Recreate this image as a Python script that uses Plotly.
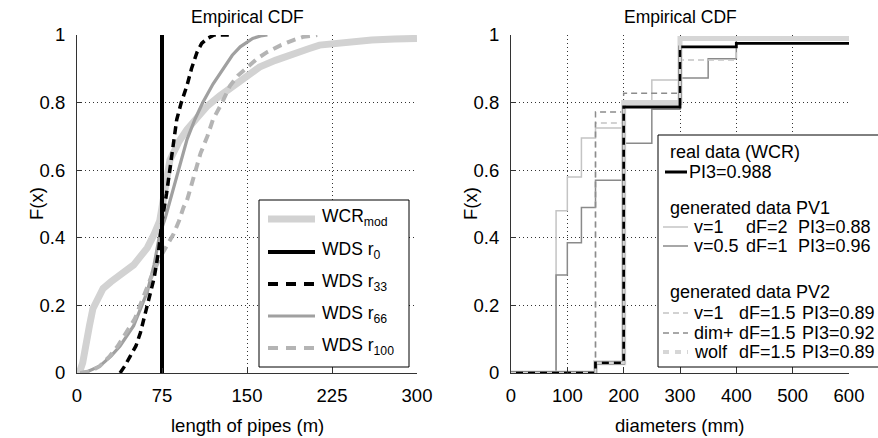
import plotly.graph_objects as go

W, H = 878, 438
FONT = "Liberation Sans, Arial, sans-serif"

# ---------------- left panel data (length of pipes, m) ----------------
wcr_x = [0, 3, 5, 7, 9, 11, 14, 18, 23, 30, 38, 44, 50, 56, 62, 68, 73, 78, 82, 90, 97, 106, 115, 126, 138, 150, 161, 175, 191, 205, 214, 235, 260, 280, 300]
wcr_y = [0, 0.01, 0.03, 0.06, 0.10, 0.14, 0.19, 0.22, 0.25, 0.27, 0.29, 0.30, 0.32, 0.345, 0.37, 0.41, 0.45, 0.55, 0.63, 0.685, 0.72, 0.755, 0.79, 0.82, 0.85, 0.88, 0.905, 0.925, 0.946, 0.96, 0.97, 0.978, 0.985, 0.988, 0.99]
r0_x = [75, 75]
r0_y = [0, 1]
r33_x = [38, 42, 47, 52, 56, 60, 64, 68, 72, 75, 79, 82, 85, 88, 92, 97, 101, 106, 110, 115, 121, 129, 135]
r33_y = [0, 0.02, 0.05, 0.08, 0.12, 0.17, 0.22, 0.28, 0.36, 0.45, 0.53, 0.60, 0.68, 0.75, 0.80, 0.85, 0.90, 0.95, 0.975, 0.99, 1.0, 1.0, 1.0]
r66_x = [3, 10, 20, 30, 38, 44, 50, 56, 62, 68, 73, 78, 82, 90, 97, 104, 111, 120, 129, 137, 144, 150, 155, 162, 168]
r66_y = [0, 0.005, 0.02, 0.05, 0.08, 0.11, 0.14, 0.19, 0.24, 0.32, 0.41, 0.46, 0.51, 0.61, 0.69, 0.75, 0.80, 0.855, 0.90, 0.94, 0.965, 0.98, 0.99, 0.997, 1.0]
r100_x = [3, 12, 20, 29, 36, 44, 51, 58, 65, 73, 80, 85, 90, 94, 97, 103, 109, 115, 120, 128, 135, 142, 150, 159, 168, 180, 191, 200, 212]
r100_y = [0, 0.005, 0.02, 0.05, 0.08, 0.12, 0.16, 0.22, 0.28, 0.34, 0.38, 0.41, 0.45, 0.49, 0.51, 0.58, 0.65, 0.70, 0.75, 0.80, 0.85, 0.88, 0.905, 0.93, 0.95, 0.97, 0.985, 0.995, 1.0]

left_xticks = [0, 75, 150, 225, 300]
yticks = [0, 0.2, 0.4, 0.6, 0.8, 1]
ytick_text = ["0", "0.2", "0.4", "0.6", "0.8", "1"]

# ---------------- right panel data (diameters, mm) ----------------
real_x = [0, 150, 200, 300, 400, 600]
real_y = [0, 0.03, 0.787, 0.965, 0.975, 0.975]
pv1a_x = [0, 80, 100, 125, 150, 200, 250, 300, 600]
pv1a_y = [0, 0.48, 0.58, 0.695, 0.725, 0.80, 0.867, 0.99, 0.99]
pv1b_x = [0, 80, 100, 125, 150, 200, 250, 300, 350, 400, 600]
pv1b_y = [0, 0.29, 0.385, 0.49, 0.57, 0.68, 0.78, 0.873, 0.93, 0.985, 0.985]
pv2a_x = [0, 150, 200, 300, 400, 600]
pv2a_y = [0, 0.74, 0.80, 0.926, 0.99, 0.99]
dim_x = [0, 150, 200, 300, 600]
dim_y = [0, 0.772, 0.828, 0.995, 0.995]
wolf_x = [0, 150, 200, 300, 600]
wolf_y = [0, 0.03, 0.80, 0.99, 0.99]

right_xticks = [0, 100, 200, 300, 400, 500, 600]

# ---------------- layout geometry (pixels) ----------------
LX0, LX1 = 77, 417
RX0, RX1 = 511, 849
PY0, PY1 = 35, 373


def px(x):
    return x / W


def py(y):
    return 1 - y / H


fig = go.Figure()

# left traces
fig.add_trace(go.Scatter(x=wcr_x, y=wcr_y, mode="lines", line=dict(color="#d2d2d2", width=7), xaxis="x", yaxis="y"))
fig.add_trace(go.Scatter(x=r66_x, y=r66_y, mode="lines", line=dict(color="#a0a0a0", width=3.2), xaxis="x", yaxis="y"))
fig.add_trace(go.Scatter(x=r100_x, y=r100_y, mode="lines", line=dict(color="#b4b4b4", width=4, dash="9px,6px"), xaxis="x", yaxis="y"))
fig.add_trace(go.Scatter(x=r0_x, y=r0_y, mode="lines", line=dict(color="#000000", width=4), xaxis="x", yaxis="y"))
fig.add_trace(go.Scatter(x=r33_x, y=r33_y, mode="lines", line=dict(color="#000000", width=3.5, dash="8px,5px"), xaxis="x", yaxis="y"))

# right traces
fig.add_trace(go.Scatter(x=pv1a_x, y=pv1a_y, mode="lines", line=dict(color="#c4c4c4", width=1.5, shape="hv"), xaxis="x2", yaxis="y2"))
fig.add_trace(go.Scatter(x=pv1b_x, y=pv1b_y, mode="lines", line=dict(color="#8a8a8a", width=1.5, shape="hv"), xaxis="x2", yaxis="y2"))
fig.add_trace(go.Scatter(x=pv2a_x, y=pv2a_y, mode="lines", line=dict(color="#c4c4c4", width=1.5, shape="hv", dash="6px,4px"), xaxis="x2", yaxis="y2"))
fig.add_trace(go.Scatter(x=dim_x, y=dim_y, mode="lines", line=dict(color="#8c8c8c", width=1.5, shape="hv", dash="6px,4px"), xaxis="x2", yaxis="y2"))
fig.add_trace(go.Scatter(x=wolf_x, y=wolf_y, mode="lines", line=dict(color="#d6d6d6", width=5, shape="hv"), xaxis="x2", yaxis="y2"))
fig.add_trace(go.Scatter(x=real_x, y=real_y, mode="lines", line=dict(color="#000000", width=2.8, shape="hv"), xaxis="x2", yaxis="y2"))
fig.add_trace(go.Scatter(x=wolf_x, y=wolf_y, mode="lines", line=dict(color="#d6d6d6", width=2.5, shape="hv", dash="5px,7px"), xaxis="x2", yaxis="y2"))

TICKFONT = dict(family=FONT, size=18.5, color="#000")
common_ax = dict(
    showline=True, linecolor="#333", linewidth=1,
    ticks="inside", ticklen=5, tickcolor="#333",
    showgrid=True, gridcolor="#333", griddash="1px,3px", gridwidth=1,
    zeroline=False, tickfont=TICKFONT, automargin=False,
)

fig.update_layout(
    width=W, height=H,
    margin=dict(l=0, r=0, t=0, b=0, autoexpand=False),
    paper_bgcolor="white", plot_bgcolor="white",
    showlegend=False,
    xaxis=dict(domain=[px(LX0), px(LX1)], range=[0, 300], tickvals=left_xticks,
               ticklabelstandoff=6, anchor="y", **common_ax),
    yaxis=dict(domain=[py(PY1), py(PY0)], range=[0, 1], tickvals=yticks, ticktext=ytick_text,
               ticklabelstandoff=7, anchor="x", **common_ax),
    xaxis2=dict(domain=[px(RX0), px(RX1)], range=[0, 600], tickvals=right_xticks,
                ticklabelstandoff=6, anchor="y2", **common_ax),
    yaxis2=dict(domain=[py(PY1), py(PY0)], range=[0, 1], tickvals=yticks, ticktext=ytick_text,
                ticklabelstandoff=7, anchor="x2", **common_ax),
)

ann = []
shapes = []


def text(x, y, s, size=18.5, xanchor="left", angle=0):
    ann.append(dict(x=px(x), y=py(y), xref="paper", yref="paper", text=s, showarrow=False,
                    xanchor=xanchor, yanchor="middle", textangle=angle, borderpad=0,
                    font=dict(family=FONT, size=size, color="#000")))


# titles & axis labels
text((LX0 + LX1) / 2, 17, "Empirical CDF", size=17.5, xanchor="center")
text((RX0 + RX1) / 2, 17, "Empirical CDF", size=17.5, xanchor="center")
text((LX0 + LX1) / 2, 425, "length of pipes (m)", xanchor="center")
text((RX0 + RX1) / 2, 425, "diameters (mm)", xanchor="center")
text(36, (PY0 + PY1) / 2, "F(x)", xanchor="center", angle=-90)
text(470, (PY0 + PY1) / 2, "F(x)", xanchor="center", angle=-90)


def rect(x0, y0, x1, y1):
    shapes.append(dict(type="rect", xref="paper", yref="paper", x0=px(x0), x1=px(x1), y0=py(y1), y1=py(y0),
                       line=dict(color="#000", width=1), fillcolor="white", layer="above"))


def sample(x0, x1, y, color, width, dash="solid"):
    shapes.append(dict(type="line", xref="paper", yref="paper", x0=px(x0), x1=px(x1), y0=py(y), y1=py(y),
                       line=dict(color=color, width=width, dash=dash), layer="above"))


# left legend
rect(259, 200, 409, 367)
left_rows = [219, 252, 284, 316, 348]
left_labels = ["WCR<sub>mod</sub>", "WDS r<sub>0</sub>", "WDS r<sub>33</sub>", "WDS r<sub>66</sub>", "WDS r<sub>100</sub>"]
left_styles = [("#d2d2d2", 7, "solid"), ("#000", 4, "solid"), ("#000", 4, "10px,8px"),
               ("#a0a0a0", 3, "solid"), ("#b4b4b4", 4, "10px,8px")]
for yy, lab, (c, w, d) in zip(left_rows, left_labels, left_styles):
    sample(268, 315, yy, c, w, d)
    text(321, yy - 2, lab, size=17.5)

# right legend
RS = 18
rect(658, 135, 900, 367)
text(669, 152, "real data (WCR)", size=RS)
sample(665, 687, 172, "#000", 3)
text(688, 172, "PI3=0.988", size=RS)
text(669, 208, "generated data PV1", size=RS)
sample(663, 688, 227, "#c4c4c4", 1.5)
text(693, 227, "v=1", size=RS)
text(745, 227, "dF=2", size=RS)
text(797, 227, "PI3=0.88", size=RS)
sample(663, 688, 246, "#8a8a8a", 1.5)
text(693, 246, "v=0.5", size=RS)
text(745, 246, "dF=1", size=RS)
text(797, 246, "PI3=0.96", size=RS)
text(669, 292, "generated data PV2", size=RS)
sample(663, 688, 313, "#c4c4c4", 1.5, "6px,4px")
text(693, 313, "v=1", size=RS)
text(738, 313, "dF=1.5", size=RS)
text(801, 313, "PI3=0.89", size=RS)
sample(663, 688, 333, "#8c8c8c", 1.5, "6px,4px")
text(693, 333, "dim+", size=RS)
text(738, 333, "dF=1.5", size=RS)
text(801, 333, "PI3=0.92", size=RS)
sample(663, 688, 352, "#d6d6d6", 4, "6px,6px")
text(693, 352, "wolf", size=RS)
text(738, 352, "dF=1.5", size=RS)
text(801, 352, "PI3=0.89", size=RS)

fig.update_layout(annotations=ann, shapes=shapes)
fig.write_html("out.html", config={"displayModeBar": False},
               post_script="document.body.style.margin='0px';document.body.style.overflow='hidden';")
